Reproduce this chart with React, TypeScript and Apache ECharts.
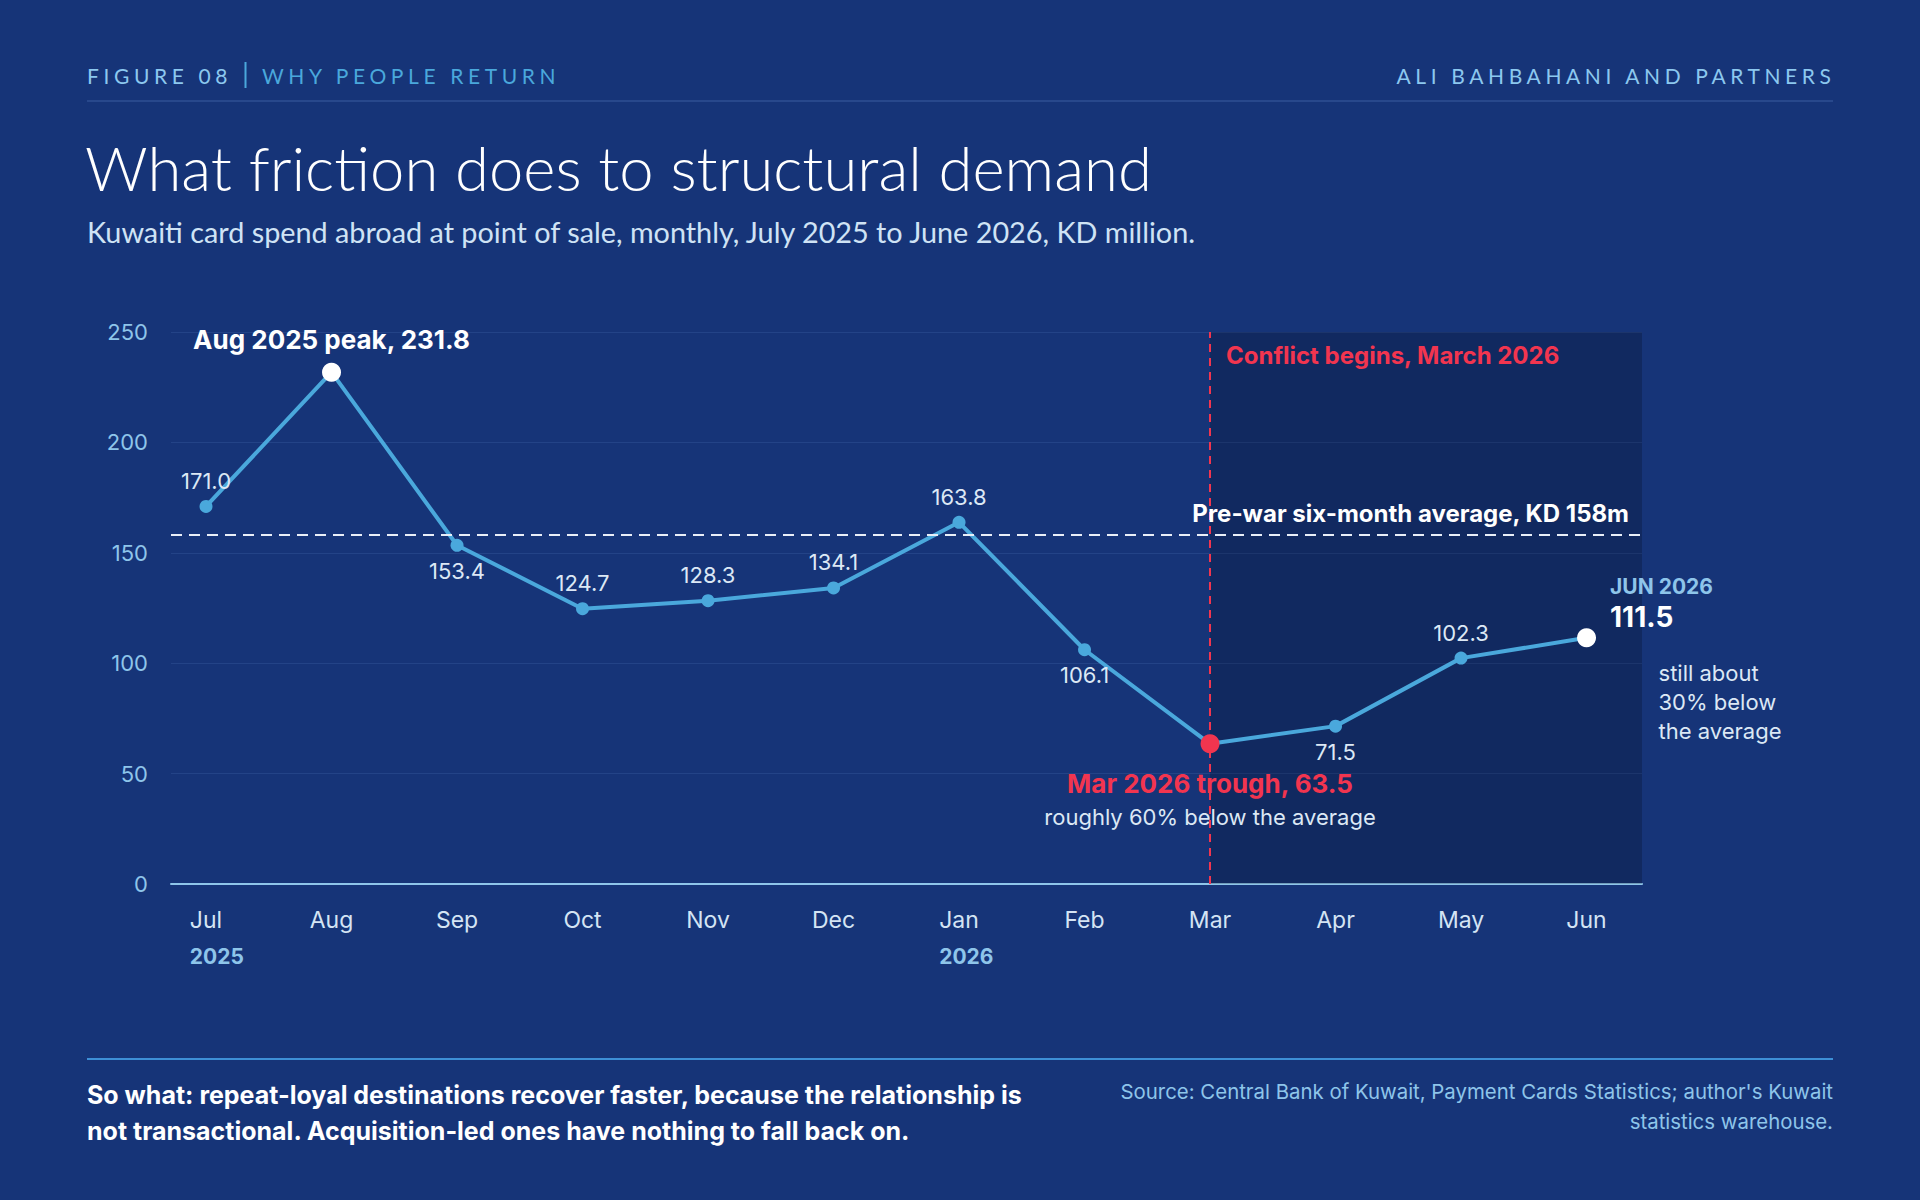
import React, { useEffect, useRef } from 'react';
import * as echarts from 'echarts';

// ---------- data ----------
const MONTHS = ['Jul', 'Aug', 'Sep', 'Oct', 'Nov', 'Dec', 'Jan', 'Feb', 'Mar', 'Apr', 'May', 'Jun'];
const YEAR_AT = [0, 6];
const YEARS = ['2025', '2026'];
const SPEND = [171.0, 231.8, 153.4, 124.7, 128.3, 134.1, 163.8, 106.1, 63.5, 71.5, 102.3, 111.5];
const Y_MIN = 0;
const Y_MAX = 250;
const Y_STEP = 50;
const PREWAR_AVG = 158;
const CONFLICT_INDEX = 8;
const PEAK_INDEX = 1;
const TROUGH_INDEX = 8;
const LATEST_INDEX = 11;
const LABEL_BELOW = [2, 7, 9];

const TITLE = 'What friction does to structural demand';
const SUBTITLE = 'Kuwaiti card spend abroad at point of sale, monthly, July 2025 to June 2026, KD million.';
const FIG_NO = 'FIGURE 08';
const FIG_NAME = 'WHY PEOPLE RETURN';
const BRAND = 'ALI BAHBAHANI AND PARTNERS';
const SO_WHAT = 'So what: repeat-loyal destinations recover faster, because the relationship is\nnot transactional. Acquisition-led ones have nothing to fall back on.';
const SOURCE = "Source: Central Bank of Kuwait, Payment Cards Statistics; author's Kuwait\nstatistics warehouse.";
const AVG_LABEL = 'Pre-war six-month average, KD 158m';
const CONFLICT_LABEL = 'Conflict begins, March 2026';
const TROUGH_NOTE = 'roughly 60% below the average';
const LATEST_NOTE = 'still about\n30% below\nthe average';

// ---------- style ----------
const BG = '#163478';
const LINE = '#4aa8dc';
const RED = '#f2354f';
const LIGHT = '#8ec5ea';
const TEXT = '#dce8f5';
const FONT = 'Inter';
const TITLE_FONT = 'Lato';
const X_MIN = -0.279;
const X_MAX = 11.442;
const SPACING = 4.6;

export default function App() {
  const ref = useRef<HTMLDivElement>(null);

  useEffect(() => {
    document.body.style.margin = '0';
    const el = ref.current!;
    const chart = echarts.init(el, null, { renderer: 'svg' });

    const seriesData = SPEND.map((v, i) => {
      const item: any = { value: [i, v] };
      if (i === PEAK_INDEX) {
        item.symbolSize = 19;
        item.itemStyle = { color: '#ffffff' };
        item.label = {
          show: true,
          position: 'top',
          distance: 10,
          formatter: `${MONTHS[i]} ${YEARS[0]} peak, ${v.toFixed(1)}`,
          fontSize: 26,
          fontWeight: 700,
          color: '#ffffff',
        };
      } else if (i === TROUGH_INDEX) {
        item.symbolSize = 19;
        item.itemStyle = { color: RED };
        item.label = {
          show: true,
          position: 'bottom',
          distance: 14,
          formatter: `{a|${MONTHS[i]} ${YEARS[1]} trough, ${v.toFixed(1)}}\n{b|${TROUGH_NOTE}}`,
          rich: {
            a: { fontFamily: FONT, fontSize: 26, fontWeight: 700, color: RED, lineHeight: 33, align: 'center' },
            b: { fontFamily: FONT, fontSize: 22, color: TEXT, lineHeight: 33, align: 'center' },
          },
        };
      } else if (i === LATEST_INDEX) {
        item.symbolSize = 19;
        item.itemStyle = { color: '#ffffff' };
        item.label = {
          show: true,
          position: 'right',
          distance: 14,
          offset: [0, -36],
          formatter: `{k|${MONTHS[i].toUpperCase()} ${YEARS[1]}}\n{v|${v.toFixed(1)}}`,
          rich: {
            k: { fontFamily: FONT, fontSize: 21, fontWeight: 700, color: LIGHT, lineHeight: 30 },
            v: { fontFamily: FONT, fontSize: 28, fontWeight: 700, color: '#ffffff', lineHeight: 30 },
          },
        };
      } else {
        item.label = {
          show: true,
          position: LABEL_BELOW.includes(i) ? 'bottom' : 'top',
          distance: 8,
          formatter: v.toFixed(1),
        };
      }
      return item;
    });

    const option: any = {
      animation: false,
      backgroundColor: BG,
      grid: { left: 171, right: 278, top: 332, bottom: 316, containLabel: false },
      xAxis: {
        type: 'value',
        min: X_MIN,
        max: X_MAX,
        axisLine: { show: true, lineStyle: { color: LIGHT, width: 2 } },
        axisTick: { show: false },
        splitLine: { show: false },
        axisLabel: {
          customValues: MONTHS.map((_, i) => i),
          margin: 18,
          formatter: (v: number) => {
            const i = Math.round(v);
            const yi = YEAR_AT.indexOf(i);
            return yi >= 0 ? `{m|${MONTHS[i]}}\n{y|${YEARS[yi]}}` : `{m|${MONTHS[i]}}`;
          },
          rich: {
            m: { fontFamily: FONT, fontSize: 23, color: '#d4e4f4', lineHeight: 36, align: 'center' },
            y: { fontFamily: FONT, fontSize: 21, fontWeight: 700, color: LIGHT, lineHeight: 36, align: 'left', width: 1 },
          },
        },
      },
      yAxis: {
        type: 'value',
        min: Y_MIN,
        max: Y_MAX,
        interval: Y_STEP,
        axisLine: { show: false },
        axisTick: { show: false },
        axisLabel: { color: LIGHT, fontFamily: FONT, fontSize: 22, margin: 23 },
        splitLine: { lineStyle: { color: 'rgba(120,160,230,0.14)', width: 1 } },
      },
      series: [
        {
          type: 'line',
          data: seriesData,
          symbol: 'circle',
          symbolSize: 13,
          lineStyle: { color: LINE, width: 4 },
          itemStyle: { color: LINE },
          label: { show: false, fontFamily: FONT, fontSize: 22, color: TEXT },
          z: 3,
          markArea: {
            silent: true,
            itemStyle: { color: 'rgba(0,0,0,0.2)' },
            data: [[{ xAxis: CONFLICT_INDEX, yAxis: Y_MAX }, { xAxis: X_MAX, yAxis: Y_MIN }]],
          },
          markLine: {
            silent: true,
            symbol: ['none', 'none'],
            z: 5,
            data: [
              {
                yAxis: PREWAR_AVG,
                lineStyle: { color: '#e8eef8', width: 2, type: [11, 7] },
                label: {
                  show: true,
                  position: 'insideEndTop',
                  distance: [13, 10],
                  formatter: AVG_LABEL,
                  fontFamily: FONT,
                  fontSize: 24,
                  fontWeight: 700,
                  color: '#ffffff',
                },
              },
              {
                xAxis: CONFLICT_INDEX,
                lineStyle: { color: RED, width: 2, type: [8, 6] },
                label: { show: false },
              },
            ],
          },
          markPoint: {
            silent: true,
            symbol: 'circle',
            symbolSize: 0,
            data: [
              {
                coord: [CONFLICT_INDEX, Y_MAX],
                label: {
                  show: true,
                  position: 'right',
                  distance: 16,
                  offset: [0, 23],
                  formatter: CONFLICT_LABEL,
                  fontFamily: FONT,
                  fontSize: 24,
                  fontWeight: 700,
                  color: RED,
                },
              },
              {
                coord: [LATEST_INDEX, SPEND[LATEST_INDEX]],
                label: {
                  show: true,
                  position: 'right',
                  distance: 72,
                  offset: [0, 64],
                  formatter: LATEST_NOTE,
                  fontFamily: FONT,
                  fontSize: 22,
                  lineHeight: 29,
                  color: TEXT,
                },
              },
            ],
          },
        },
      ],
      graphic: [
        { type: 'text', x: 87, y: 75, style: { text: FIG_NO, fill: '#8cc8ef', fontFamily: TITLE_FONT, fontSize: 21, verticalAlign: 'middle', align: 'left' } },
        { type: 'line', shape: { x1: 245.5, y1: 62, x2: 245.5, y2: 88 }, style: { stroke: LINE, lineWidth: 2 } },
        { type: 'text', x: 262, y: 75, style: { text: FIG_NAME, fill: LINE, fontFamily: TITLE_FONT, fontSize: 21, verticalAlign: 'middle', align: 'left' } },
        { type: 'text', x: 1831 + SPACING, y: 75, style: { text: BRAND, fill: '#8cc8ef', fontFamily: TITLE_FONT, fontSize: 21, verticalAlign: 'middle', align: 'right' } },
        { type: 'line', shape: { x1: 87, y1: 101, x2: 1833, y2: 101 }, style: { stroke: '#2f4f93', lineWidth: 1.5 } },
        { type: 'text', x: 85, y: 167, style: { text: TITLE, fill: '#ffffff', fontFamily: TITLE_FONT, fontWeight: 300, fontSize: 61.6, verticalAlign: 'middle', align: 'left' } },
        { type: 'text', x: 87, y: 232, style: { text: SUBTITLE, fill: '#cfe3f5', fontFamily: TITLE_FONT, fontSize: 28.8, verticalAlign: 'middle', align: 'left' } },
        { type: 'line', shape: { x1: 87, y1: 1059, x2: 1833, y2: 1059 }, style: { stroke: '#3d8fd6', lineWidth: 2 } },
        { type: 'text', x: 87, y: 1076.5, style: { text: SO_WHAT, fill: '#ffffff', fontFamily: FONT, fontWeight: 700, fontSize: 25, lineHeight: 36, verticalAlign: 'top', align: 'left' } },
        { type: 'text', x: 1833, y: 1076, style: { text: SOURCE, fill: LIGHT, fontFamily: FONT, fontSize: 20.4, lineHeight: 30, verticalAlign: 'top', align: 'right' } },
      ],
    };

    chart.setOption(option);

    const spaced = [FIG_NO, FIG_NAME, BRAND];
    const applySpacing = () => {
      el.querySelectorAll('text').forEach((t) => {
        if (spaced.includes((t.textContent || '').trim())) {
          t.setAttribute('letter-spacing', String(SPACING));
        }
      });
    };
    applySpacing();
    chart.on('finished', applySpacing);
    const timer = setTimeout(applySpacing, 50);

    return () => {
      clearTimeout(timer);
      chart.dispose();
    };
  }, []);

  return <div ref={ref} style={{ width: 1920, height: 1200, background: BG }} />;
}
